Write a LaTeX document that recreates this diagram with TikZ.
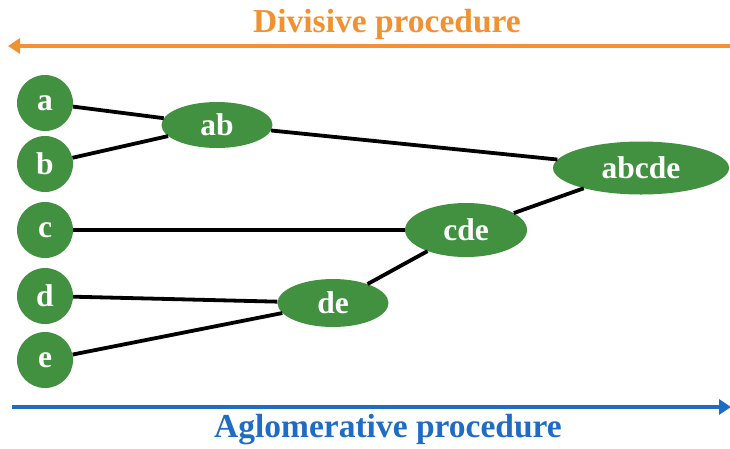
\documentclass[tikz,border=0pt]{standalone}
\usepackage{fontspec}
\setmainfont{Liberation Serif}
\usetikzlibrary{shapes.geometric,arrows.meta}
\definecolor{nodegreen}{RGB}{66,145,64}
\definecolor{divorange}{RGB}{240,146,50}
\definecolor{aglblue}{RGB}{31,108,196}
\tikzset{
  leaf/.style={circle,fill=nodegreen,inner sep=0pt,minimum size=56pt,text=white,font=\fontsize{31.5}{31.5}\selectfont\bfseries},
  merge/.style={ellipse,fill=nodegreen,inner sep=0pt,text=white,font=\fontsize{31.5}{31.5}\selectfont\bfseries},
  link/.style={line width=3.8pt,black},
  title/.style={font=\fontsize{33.5}{33.5}\selectfont\bfseries,anchor=base},
  procarrow/.style={line width=4pt,-{Triangle[length=12pt,width=15pt]}}
}
\begin{document}
\begin{tikzpicture}[x=1pt,y=-1pt]
\useasboundingbox (0,0) rectangle (730,448);
% titles and arrows
\node[title,text=divorange] (divt) at (387,32) {Divisive procedure};
\coordinate (dstart) at (730,46);
\coordinate (dend) at (8,46);
\draw[procarrow,divorange] (dstart) -- (dend);
\node[title,text=aglblue] (aglt) at (388,437) {Aglomerative procedure};
\coordinate (astart) at (12,407);
\coordinate (aend) at (731,407);
\draw[procarrow,aglblue] (astart) -- (aend);
% leaves
\node[leaf] (a) at (45,103) {a};
\node[leaf] (b) at (45,164) {b};
\node[leaf] (c) at (45,230) {c};
\node[leaf] (d) at (45,296) {d};
\node[leaf] (e) at (45,360) {e};
% merges
\node[merge,minimum width=111pt,minimum height=46pt] (ab) at (217,125) {ab};
\node[merge,minimum width=122pt,minimum height=54pt] (cde) at (466,230) {cde};
\node[merge,minimum width=111pt,minimum height=48pt] (de) at (333,303) {de};
\node[merge,minimum width=176pt,minimum height=53pt] (abcde) at (641,168) {abcde};
% links
\draw[link] (a) -- (ab);
\draw[link] (b) -- (ab);
\draw[link] (ab) -- (abcde);
\draw[link] (c) -- (cde);
\draw[link] (d) -- (de);
\draw[link] (e) -- (de);
\draw[link] (de) -- (cde);
\draw[link] (cde) -- (abcde);
\end{tikzpicture}
\end{document}
